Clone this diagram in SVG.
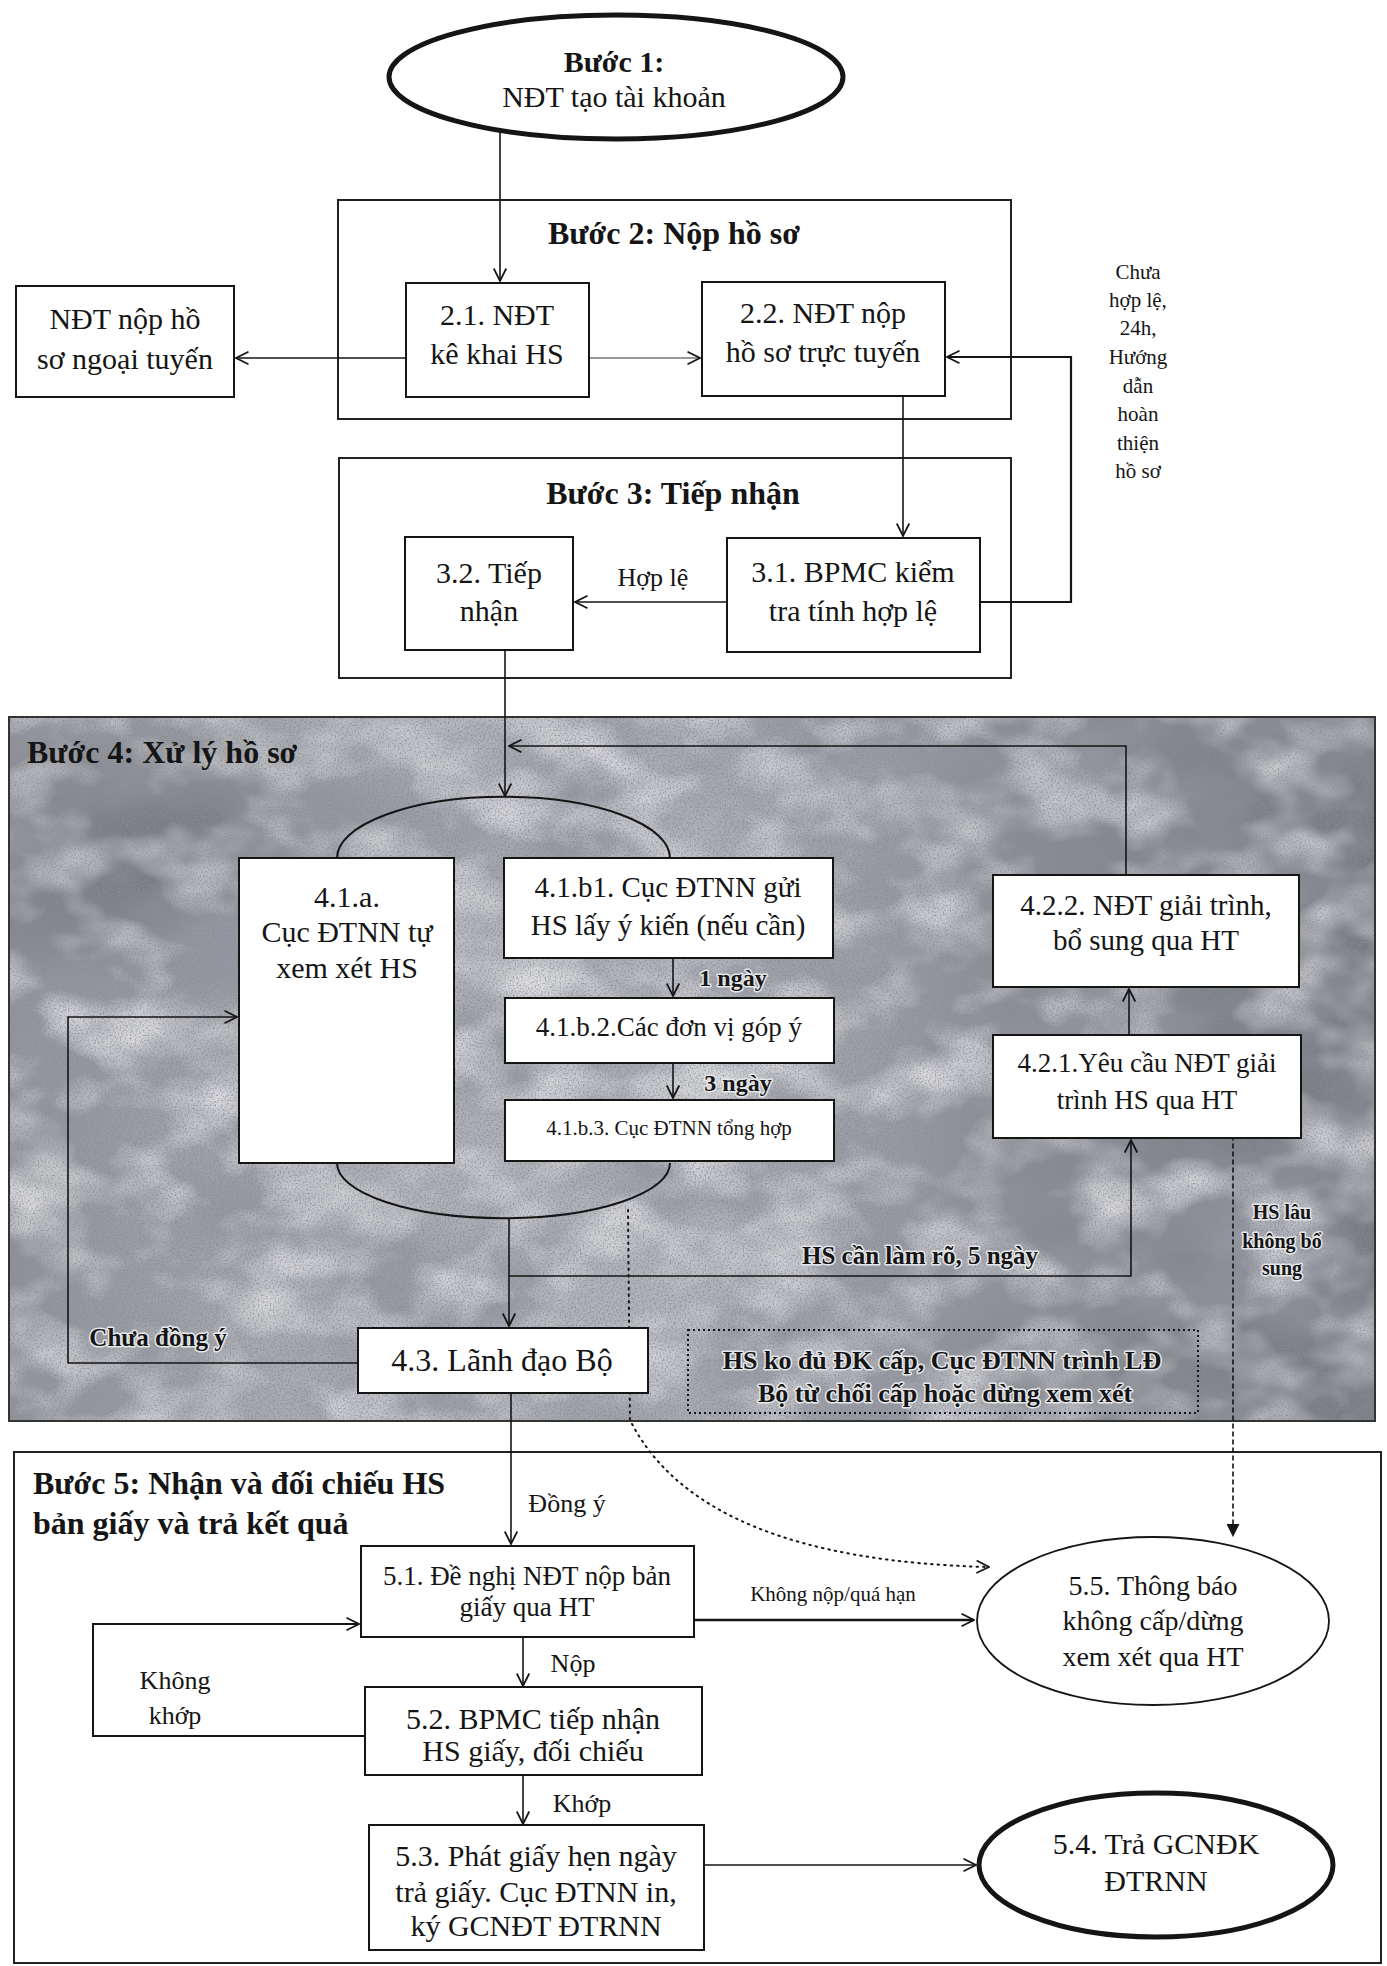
<svg xmlns="http://www.w3.org/2000/svg" width="1387" height="1966" viewBox="0 0 1387 1966">
<defs>
<style>
text { font-family: "Liberation Serif","Times New Roman",serif; fill:#151515; }
.t { font-size:30px; text-anchor:middle; dominant-baseline:central; }
.h { font-size:32px; font-weight:bold; dominant-baseline:central; }
.box { fill:#fff; stroke:#151515; stroke-width:2; }
.cont { fill:none; stroke:#222; stroke-width:2; }
.ln { fill:none; stroke:#151515; stroke-width:1.6; }
.arr { marker-end:url(#open); }
.dot { fill:none; stroke:#151515; stroke-width:2; stroke-dasharray:1.5 5; stroke-linecap:round; }
.lbl { font-size:26px; text-anchor:middle; dominant-baseline:central; }
.l4 { font-weight:bold; stroke:#e6e7ea; stroke-width:3; paint-order:stroke; stroke-linejoin:round; }
.col { font-size:21px; }
</style>
<marker id="open" viewBox="0 0 12 12" refX="11" refY="6" markerWidth="15" markerHeight="15" markerUnits="userSpaceOnUse" orient="auto">
<path d="M1,1 L11,6 L1,11" fill="none" stroke="#151515" stroke-width="1.4"/>
</marker>
<marker id="solid" viewBox="0 0 12 12" refX="11" refY="6" markerWidth="13" markerHeight="13" markerUnits="userSpaceOnUse" orient="auto">
<path d="M0,0 L12,6 L0,12 z" fill="#151515"/>
</marker>
<linearGradient id="shade" x1="0" y1="0" x2="1" y2="0">
<stop offset="0" stop-color="#3a3d44" stop-opacity="0.3"/>
<stop offset="0.22" stop-color="#3a3d44" stop-opacity="0.05"/>
<stop offset="0.5" stop-color="#3a3d44" stop-opacity="0.0"/>
<stop offset="0.72" stop-color="#2e323b" stop-opacity="0.3"/>
<stop offset="1" stop-color="#2e323b" stop-opacity="0.45"/>
</linearGradient>
<radialGradient id="corner" cx="0.14" cy="0.2" r="0.22">
<stop offset="0" stop-color="#33363c" stop-opacity="0.45"/>
<stop offset="1" stop-color="#33363c" stop-opacity="0"/>
</radialGradient>
<filter id="mottle" x="0" y="0" width="1" height="1">
<feTurbulence type="fractalNoise" baseFrequency="0.006 0.009" numOctaves="4" seed="11" result="n1"/>
<feColorMatrix in="n1" type="matrix" values="0 0 0 0 0.30  0 0 0 0 0.31  0 0 0 0 0.36  2.4 0 0 0 -0.95" result="dark"/>
<feTurbulence type="fractalNoise" baseFrequency="0.012 0.018" numOctaves="3" seed="21" result="n4"/>
<feColorMatrix in="n4" type="matrix" values="0 0 0 0 0.88  0 0 0 0 0.88  0 0 0 0 0.9  1.6 0 0 0 -0.68" result="pale"/>
<feTurbulence type="fractalNoise" baseFrequency="0.6" numOctaves="1" seed="3" result="n2"/>
<feColorMatrix in="n2" type="matrix" values="0 0 0 0 0.25  0 0 0 0 0.26  0 0 0 0 0.3  2.4 0 0 0 -1.05" result="grain"/>
<feMerge result="m"><feMergeNode in="dark"/><feMergeNode in="pale"/><feMergeNode in="grain"/></feMerge>
<feComposite in="m" in2="SourceGraphic" operator="in"/>
</filter>
</defs>

<!-- Step 4 textured panel -->
<g id="step4-panel">
<rect x="9" y="717" width="1366" height="704" fill="#b3b5ba"/>
<rect x="9" y="717" width="1366" height="704" fill="url(#shade)"/>
<rect x="9" y="717" width="1366" height="704" fill="url(#corner)"/>
<rect x="9" y="717" width="1366" height="704" fill="#000" filter="url(#mottle)"/>
<rect x="9" y="717" width="1366" height="704" fill="none" stroke="#333" stroke-width="2"/>
</g>

<!-- containers -->
<g id="step2-container"><rect class="cont" x="338" y="200" width="673" height="219"/>
<text class="h" x="674" y="233" text-anchor="middle">Bước 2: Nộp hồ sơ</text></g>
<g id="step3-container"><rect class="cont" x="339" y="458" width="672" height="220"/>
<text class="h" x="673" y="493" text-anchor="middle">Bước 3: Tiếp nhận</text></g>
<g id="step4-title"><text class="h" x="27" y="752">Bước 4: Xử lý hồ sơ</text></g>
<g id="step5-container"><rect class="cont" x="14" y="1452" width="1367" height="511"/>
<text class="h" x="33" y="1483">Bước 5: Nhận và đối chiếu HS</text>
<text class="h" x="33" y="1523">bản giấy và trả kết quả</text></g>

<!-- oval grouping 4.1 -->
<g id="oval41">
<path class="ln" d="M337,858 A166,61 0 0 1 670,858" style="stroke-width:2"/>
<path class="ln" d="M337,1163 A166,55 0 0 0 670,1163" style="stroke-width:2"/>
</g>

<!-- connectors -->
<g id="connectors">
<path class="ln arr" d="M500,131 L500,281"/>
<path class="ln arr" d="M406,358 L236,358"/>
<path class="ln arr" d="M589,358 L700,358" style="stroke:#777"/>
<path class="ln arr" d="M980,602 L1071,602 L1071,357 L947,357" style="stroke-width:2.2"/>
<path class="ln arr" d="M903,396 L903,536"/>
<path class="ln arr" d="M727,602 L575,602"/>
<path class="ln arr" d="M505,650 L505,796"/>
<path class="ln arr" d="M1126,875 L1126,746 L509,746"/>
<path class="ln arr" d="M673,958 L673,996"/>
<path class="ln arr" d="M673,1063 L673,1098"/>
<path class="ln arr" d="M509,1218 L509,1326"/>
<path class="ln arr" d="M509,1276 L1131,1276 L1131,1140"/>
<path class="ln arr" d="M1129,1035 L1129,989"/>
<path class="ln arr" d="M358,1363 L68,1363 L68,1017 L237,1017"/>
<path class="dot" d="M628,1210 L630,1420 Q700,1560 989,1567" marker-end="url(#open)"/>
<path class="dot" d="M1233,1040 L1233,1536" marker-end="url(#solid)" style="stroke-dasharray:4 4;stroke-width:1.6"/>
<path class="ln arr" d="M511,1393 L511,1544"/>
<path class="ln arr" d="M694,1620 L974,1620" style="stroke-width:2.4"/>
<path class="ln arr" d="M523,1637 L523,1686"/>
<path class="ln arr" d="M365,1736 L93,1736 L93,1624 L359,1624" style="stroke-width:2"/>
<path class="ln arr" d="M523,1775 L523,1824"/>
<path class="ln arr" d="M704,1865 L976,1865"/>
</g>

<!-- connector labels -->
<g id="labels">
<text class="lbl" x="653" y="577">Hợp lệ</text>
<text class="lbl col" x="1138" y="272">Chưa</text>
<text class="lbl col" x="1138" y="300">hợp lệ,</text>
<text class="lbl col" x="1138" y="328">24h,</text>
<text class="lbl col" x="1138" y="357">Hướng</text>
<text class="lbl col" x="1138" y="386">dẫn</text>
<text class="lbl col" x="1138" y="414">hoàn</text>
<text class="lbl col" x="1138" y="443">thiện</text>
<text class="lbl col" x="1138" y="471">hồ sơ</text>
<text class="lbl l4" x="733" y="978" style="font-size:24px">1 ngày</text>
<text class="lbl l4" x="738" y="1083" style="font-size:24px">3 ngày</text>
<text class="lbl l4" x="920" y="1255" style="font-size:25px">HS cần làm rõ, 5 ngày</text>
<text class="lbl l4" x="158" y="1337" style="font-size:25px">Chưa đồng ý</text>
<text class="lbl l4" x="1282" y="1212" style="font-size:20px">HS lâu</text>
<text class="lbl l4" x="1282" y="1241" style="font-size:20px">không bổ</text>
<text class="lbl l4" x="1282" y="1268" style="font-size:20px">sung</text>
<text class="lbl" x="567" y="1503">Đồng ý</text>
<text class="lbl" x="833" y="1594" style="font-size:21px">Không nộp/quá hạn</text>
<text class="lbl" x="573" y="1663">Nộp</text>
<text class="lbl" x="175" y="1680">Không</text>
<text class="lbl" x="175" y="1715">khớp</text>
<text class="lbl" x="582" y="1803">Khớp</text>
</g>

<!-- nodes -->
<g id="n1"><ellipse cx="616" cy="77" rx="227" ry="62" fill="#fff" stroke="#151515" stroke-width="5"/>
<text class="t" x="614" y="61" font-weight="bold">Bước 1:</text>
<text class="t" x="614" y="96">NĐT tạo tài khoản</text></g>

<g id="n-offline"><rect class="box" x="16" y="286" width="218" height="111"/>
<text class="t" x="125" y="318">NĐT nộp hồ</text>
<text class="t" x="125" y="358">sơ ngoại tuyến</text></g>

<g id="n21"><rect class="box" x="406" y="283" width="183" height="114"/>
<text class="t" x="497" y="314">2.1. NĐT</text>
<text class="t" x="497" y="353">kê khai HS</text></g>

<g id="n22"><rect class="box" x="702" y="282" width="243" height="114"/>
<text class="t" x="823" y="312">2.2. NĐT nộp</text>
<text class="t" x="823" y="351">hồ sơ trực tuyến</text></g>

<g id="n32"><rect class="box" x="405" y="537" width="168" height="113"/>
<text class="t" x="489" y="572">3.2. Tiếp</text>
<text class="t" x="489" y="610">nhận</text></g>

<g id="n31"><rect class="box" x="727" y="538" width="253" height="114"/>
<text class="t" x="853" y="571">3.1. BPMC kiểm</text>
<text class="t" x="853" y="610">tra tính hợp lệ</text></g>

<g id="n41a"><rect class="box" x="239" y="858" width="215" height="305"/>
<text class="t" x="347" y="896">4.1.a.</text>
<text class="t" x="347" y="931">Cục ĐTNN tự</text>
<text class="t" x="347" y="967">xem xét HS</text></g>

<g id="n41b1"><rect class="box" x="504" y="858" width="329" height="100"/>
<text class="t" x="668" y="887" style="font-size:29px">4.1.b1. Cục ĐTNN gửi</text>
<text class="t" x="668" y="925" style="font-size:29px">HS lấy ý kiến (nếu cần)</text></g>

<g id="n41b2"><rect class="box" x="505" y="998" width="329" height="65"/>
<text class="t" x="669" y="1027" style="font-size:27px">4.1.b.2.Các đơn vị góp ý</text></g>

<g id="n41b3"><rect class="box" x="505" y="1100" width="329" height="61"/>
<text class="t" x="669" y="1128" style="font-size:21px">4.1.b.3. Cục ĐTNN tổng hợp</text></g>

<g id="n422"><rect class="box" x="993" y="875" width="306" height="112"/>
<text class="t" x="1146" y="905" style="font-size:29px">4.2.2. NĐT giải trình,</text>
<text class="t" x="1146" y="940" style="font-size:29px">bổ sung qua HT</text></g>

<g id="n421"><rect class="box" x="993" y="1035" width="308" height="103"/>
<text class="t" x="1147" y="1063" style="font-size:27px">4.2.1.Yêu cầu NĐT giải</text>
<text class="t" x="1147" y="1100" style="font-size:27px">trình HS qua HT</text></g>

<g id="n43"><rect class="box" x="358" y="1328" width="290" height="65"/>
<text class="t" x="502" y="1360" style="font-size:32px">4.3. Lãnh đạo Bộ</text></g>

<g id="n-reject"><rect x="688" y="1330" width="510" height="83" fill="none" stroke="#151515" stroke-width="2" stroke-dasharray="2 3"/>
<text class="lbl l4" x="942" y="1360">HS ko đủ ĐK cấp, Cục ĐTNN trình LĐ</text>
<text class="lbl l4" x="945" y="1393">Bộ từ chối cấp hoặc dừng xem xét</text></g>

<g id="n51"><rect class="box" x="361" y="1546" width="333" height="91"/>
<text class="t" x="527" y="1576" style="font-size:27px">5.1. Đề nghị NĐT nộp bản</text>
<text class="t" x="527" y="1607" style="font-size:27px">giấy qua HT</text></g>

<g id="n52"><rect class="box" x="365" y="1687" width="337" height="88"/>
<text class="t" x="533" y="1718">5.2. BPMC tiếp nhận</text>
<text class="t" x="533" y="1750">HS giấy, đối chiếu</text></g>

<g id="n53"><rect class="box" x="369" y="1825" width="335" height="125"/>
<text class="t" x="536" y="1855">5.3. Phát giấy hẹn ngày</text>
<text class="t" x="536" y="1891">trả giấy. Cục ĐTNN in,</text>
<text class="t" x="536" y="1925">ký GCNĐT ĐTRNN</text></g>

<g id="n55"><ellipse cx="1153" cy="1621" rx="176" ry="84" fill="#fff" stroke="#151515" stroke-width="1.8"/>
<text class="t" x="1153" y="1585" style="font-size:28px">5.5. Thông báo</text>
<text class="t" x="1153" y="1620" style="font-size:28px">không cấp/dừng</text>
<text class="t" x="1153" y="1656" style="font-size:28px">xem xét qua HT</text></g>

<g id="n54"><ellipse cx="1156" cy="1865" rx="177" ry="72" fill="#fff" stroke="#151515" stroke-width="5"/>
<text class="t" x="1156" y="1843">5.4. Trả GCNĐK</text>
<text class="t" x="1156" y="1880">ĐTRNN</text></g>
</svg>
